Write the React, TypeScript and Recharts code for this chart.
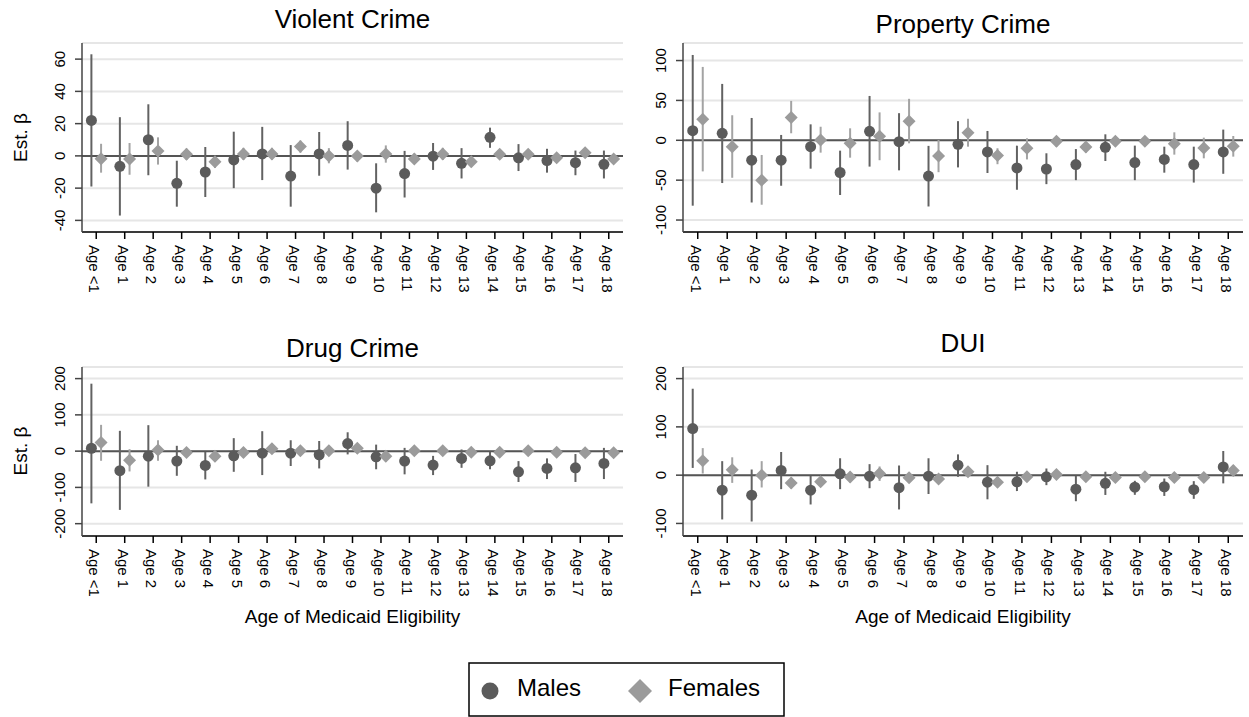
import React from "react";
import {
  CartesianGrid,
  ErrorBar,
  ReferenceLine,
  Scatter,
  ScatterChart,
  XAxis,
  YAxis,
} from "recharts";

const ages = [
  "Age <1", "Age 1", "Age 2", "Age 3", "Age 4", "Age 5", "Age 6", "Age 7", "Age 8", "Age 9",
  "Age 10", "Age 11", "Age 12", "Age 13", "Age 14", "Age 15", "Age 16", "Age 17", "Age 18",
];

// [estimate, lower CI, upper CI]
type Est = [number, number, number];

const violentMales: Est[] = [
  [22, -19, 63], [-6.5, -37, 24], [10, -12, 32], [-17, -31.5, -3], [-10, -25.5, 5.5],
  [-2.5, -20, 15], [1.2, -15, 18], [-12.5, -31.5, 6.7], [1.2, -12.3, 14.8], [6.5, -8.5, 21.5],
  [-20, -35, -4.6], [-11, -25.8, 3.1], [-0.2, -8.7, 8], [-4.6, -14, 4.8], [11.5, 5, 17.5],
  [-1.2, -9.4, 7.3], [-2.9, -10.4, 4.4], [-4.2, -12, 3.3], [-5.2, -14, 3.3],
];
const violentFemales: Est[] = [
  [-1.7, -10.4, 7.5], [-2, -11.7, 8], [3.1, -5.4, 11.5], [1, -2.5, 4.5], [-3.7, -7.5, 0],
  [1.2, -2.5, 5], [1.2, -2.5, 5], [5.8, 2, 9.5], [0, -4.6, 4.8], [0, -3.5, 3],
  [1.2, -4.2, 6.5], [-1.9, -5, 1.5], [1.2, -2.5, 5], [-3.7, -7, -0.5], [1, -1.5, 3.5],
  [1, -2, 4], [-1.2, -4, 1.5], [1.9, -1, 4.5], [-2, -5, 1],
];

const propertyMales: Est[] = [
  [12, -82, 107], [8.8, -53.6, 70.7], [-25, -78, 28], [-25, -57, 6.7], [-8, -35.6, 20],
  [-40.4, -68.6, -13], [11.3, -33, 55.6], [-1.7, -37.7, 34], [-44.8, -83, -7], [-5, -34, 24],
  [-14.6, -41, 11.7], [-34.7, -62, -6.7], [-36, -55, -16.3], [-30.5, -50, -11], [-8.8, -26, 7.5],
  [-28, -50, -6.7], [-24, -40.6, -8], [-30.5, -53, -8], [-14.6, -42, 13.4],
];
const propertyFemales: Est[] = [
  [26.4, -39, 92], [-8, -47, 31.4], [-50, -80.8, -18.4], [28.5, 8.8, 49.4], [0.4, -15.5, 17],
  [-3.8, -21.8, 15], [5, -25, 35], [23.8, -3.8, 52], [-19.7, -40, 0.4], [9.6, -8, 27],
  [-19, -30, -10], [-10, -24, 2.5], [-1.3, -8, 5.4], [-8.4, -15.5, -1.7], [-1.3, -7.5, 4.6],
  [-1.3, -7.5, 4.6], [-4.2, -18, 10], [-9.6, -22.6, 3.3], [-7.5, -20.5, 5.4],
];

const drugMales: Est[] = [
  [8, -144, 186], [-54, -162, 56], [-14, -98, 71.6], [-27.5, -68, 14.7], [-39.4, -78, -1.8],
  [-12.8, -57, 35.8], [-5.5, -66, 55], [-5.5, -41, 30], [-10, -47.7, 28], [21, -9, 52],
  [-15.6, -50, 18], [-27.5, -64, 9], [-38.5, -66, -13], [-20, -46, 4.6], [-26.6, -50, -1.8],
  [-57, -85, -27.5], [-47.7, -77, -20], [-46, -85, -8], [-34, -77, 9],
];
const drugFemales: Est[] = [
  [23.9, -26.6, 72.5], [-24.8, -56, 5.5], [2.8, -26.6, 30], [-3.7, -15, 7], [-13.8, -26, -1.8],
  [-3.7, -17, 10], [6.4, -8, 21], [0.9, -11, 14], [1, -13, 14], [8, -6, 21],
  [-14, -29, 1], [1, -8, 10], [1, -8, 10], [-2.8, -12, 6], [-2.8, -12, 6],
  [1, -8, 10], [-2.8, -12, 6], [-4.6, -14, 5], [-4.6, -14, 5],
];

const duiMales: Est[] = [
  [96.6, 15, 179], [-31, -91.7, 29], [-41.4, -96, 11.7], [9.7, -29, 48], [-31, -60.7, -1.4],
  [2.8, -29, 35], [-2, -27, 22.8], [-26, -71, 20], [-2, -39, 35], [20.7, -3.4, 43],
  [-14.5, -50, 20.7], [-13.8, -33, 7], [-3.4, -20.7, 13.8], [-29, -54, -1.4], [-17, -41, 7],
  [-25, -40.7, -11.7], [-24, -43, -7], [-30, -49, -12.4], [17, -17, 50],
];
const duiFemales: Est[] = [
  [29.7, 3.4, 56], [11, -16, 37], [0, -25.5, 29], [-16, -27.6, -5], [-13.8, -24, -3],
  [-4, -15, 7], [3.4, -12, 18], [-5.5, -15, 4], [-8, -17, 1], [7, -4, 18],
  [-14.5, -25, -4], [-3.4, -11, 4], [1.4, -6, 9], [-3.4, -11, 4], [-4.8, -12, 3],
  [-3.4, -11, 4], [-4.8, -12, 3], [-4.8, -12, 3], [9.7, -2, 21],
];

const FONT = '"Liberation Sans", Arial, Helvetica, sans-serif';
const MALE = "#5b5b5b";
const MALE_CI = "#626262";
const FEMALE = "#9b9b9b";
const FEMALE_CI = "#a3a3a3";

const toRows = (vals: Est[], shift: number) =>
  vals.map(([est, lo, hi], i) => ({ x: i + shift, y: est, err: [est - lo, hi - est] }));

function XTick({ x, y, payload }: any) {
  return (
    <text x={x} y={y} dy={7} transform={`rotate(90 ${x} ${y})`} fontSize={15} fontFamily={FONT} fill="#000">
      {ages[payload.value]}
    </text>
  );
}

function YTick({ x, y, payload }: any) {
  return (
    <text x={x} y={y} transform={`rotate(-90 ${x} ${y})`} textAnchor="middle" fontSize={15} fontFamily={FONT} fill="#000">
      {payload.value}
    </text>
  );
}

const circle = (p: any) => <circle cx={p.cx} cy={p.cy} r={5.5} fill={MALE} />;
const diamond = (p: any) => (
  <polygon
    points={`${p.cx},${p.cy - 6.5} ${p.cx + 6.5},${p.cy} ${p.cx},${p.cy + 6.5} ${p.cx - 6.5},${p.cy}`}
    fill={FEMALE}
  />
);

function Panel({
  left, top, width, height, marginTop, marginRight, yWidth, xHeight, domain, ticks, males, females,
}: {
  left: number; top: number; width: number; height: number; marginTop: number; marginRight: number;
  yWidth: number; xHeight: number; domain: [number, number]; ticks: number[]; males: Est[]; females: Est[];
}) {
  return (
    <div style={{ position: "absolute", left, top }}>
      <ScatterChart width={width} height={height} margin={{ top: marginTop, right: marginRight, bottom: 0, left: 0 }}>
        <CartesianGrid horizontal vertical={false} stroke="#e6e6e6" strokeWidth={2} />
        <XAxis
          type="number"
          dataKey="x"
          domain={[-0.5, 18.5]}
          ticks={ages.map((_, i) => i)}
          interval={0}
          height={xHeight}
          tickSize={7}
          tickMargin={6}
          tick={<XTick />}
          stroke="#000"
          strokeWidth={1.5}
          allowDataOverflow
        />
        <YAxis
          type="number"
          dataKey="y"
          domain={domain}
          ticks={ticks}
          interval={0}
          width={yWidth}
          tickSize={7}
          tickMargin={10}
          tick={<YTick />}
          stroke="#444"
          strokeWidth={1.5}
          allowDataOverflow
        />
        <ReferenceLine y={0} stroke="#555" strokeWidth={2} />
        <Scatter data={toRows(males, -0.17)} shape={circle} isAnimationActive={false}>
          <ErrorBar dataKey="err" direction="y" width={0} stroke={MALE_CI} strokeWidth={2} isAnimationActive={false} />
        </Scatter>
        <Scatter data={toRows(females, 0.17)} shape={diamond} isAnimationActive={false}>
          <ErrorBar dataKey="err" direction="y" width={0} stroke={FEMALE_CI} strokeWidth={2} isAnimationActive={false} />
        </Scatter>
      </ScatterChart>
    </div>
  );
}

export default function App() {
  const text = { fontFamily: FONT, fill: "#000" };
  return (
    <div style={{ position: "relative", width: 1249, height: 717, background: "#fff", fontFamily: FONT }}>
      <style>{"body{margin:0}"}</style>
      <Panel left={0} top={0} width={640} height={320} marginTop={43} marginRight={17} yWidth={82} xHeight={88}
        domain={[-47.2, 70]} ticks={[-40, -20, 0, 20, 40, 60]} males={violentMales} females={violentFemales} />
      <Panel left={640} top={0} width={609} height={320} marginTop={43} marginRight={6} yWidth={43} xHeight={88}
        domain={[-115, 122]} ticks={[-100, -50, 0, 50, 100]} males={propertyMales} females={propertyFemales} />
      <Panel left={0} top={330} width={640} height={300} marginTop={37} marginRight={17} yWidth={82} xHeight={94}
        domain={[-234, 232]} ticks={[-200, -100, 0, 100, 200]} males={drugMales} females={drugFemales} />
      <Panel left={640} top={330} width={609} height={300} marginTop={37} marginRight={6} yWidth={43} xHeight={94}
        domain={[-126, 224]} ticks={[-100, 0, 100, 200]} males={duiMales} females={duiFemales} />

      <svg width={1249} height={717} style={{ position: "absolute", left: 0, top: 0, pointerEvents: "none" }}>
        <text x={352.5} y={28} textAnchor="middle" fontSize={26} {...text}>Violent Crime</text>
        <text x={963} y={33} textAnchor="middle" fontSize={26} {...text}>Property Crime</text>
        <text x={352.5} y={357} textAnchor="middle" fontSize={26} {...text}>Drug Crime</text>
        <text x={963} y={352} textAnchor="middle" fontSize={26} {...text}>DUI</text>

        <text x={27} y={137.5} transform="rotate(-90 27 137.5)" textAnchor="middle" fontSize={19} {...text}>Est. β</text>
        <text x={27} y={451} transform="rotate(-90 27 451)" textAnchor="middle" fontSize={19} {...text}>Est. β</text>

        <text x={352.5} y={623} textAnchor="middle" fontSize={19} {...text}>Age of Medicaid Eligibility</text>
        <text x={963} y={623} textAnchor="middle" fontSize={19} {...text}>Age of Medicaid Eligibility</text>

        <rect x={469} y={663} width={315} height={53} fill="#fff" stroke="#000" strokeWidth={1.5} />
        <circle cx={490} cy={691} r={8.5} fill={MALE} />
        <text x={517} y={696} fontSize={24} {...text}>Males</text>
        <polygon points="640,679 652,691 640,703 628,691" fill={FEMALE} />
        <text x={668} y={696} fontSize={24} {...text}>Females</text>
      </svg>
    </div>
  );
}
